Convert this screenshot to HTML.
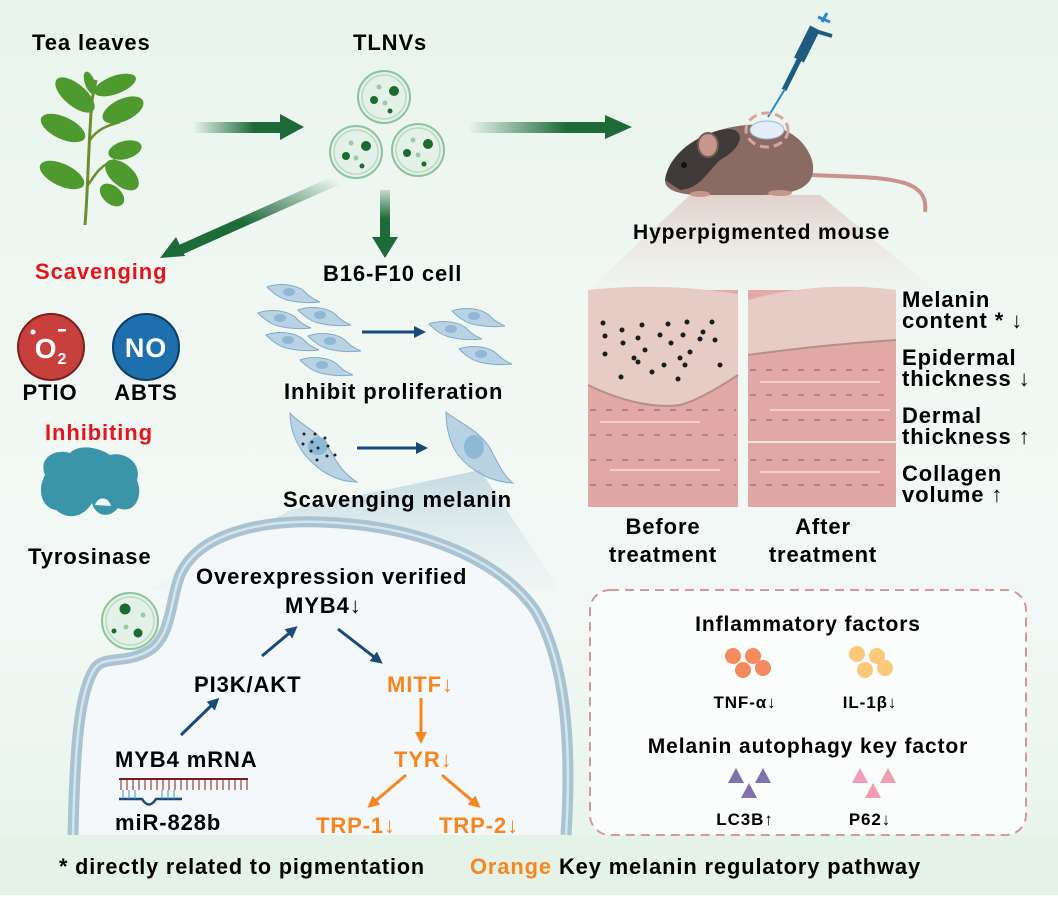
<!DOCTYPE html>
<html><head><meta charset="utf-8"><style>
html,body{margin:0;padding:0;background:#fff}
svg{display:block}
text{font-family:"Liberation Sans",Arial,sans-serif;font-weight:bold;letter-spacing:0.9px}
</style></head><body>
<svg width="1058" height="908" viewBox="0 0 1058 908" xmlns="http://www.w3.org/2000/svg">
<defs>
<linearGradient id="bg" x1="0" y1="0" x2="0" y2="1">
<stop offset="0" stop-color="#e8f4ec"/><stop offset="0.35" stop-color="#f1f8f4"/><stop offset="0.7" stop-color="#f2f8f5"/><stop offset="1" stop-color="#e6f3ea"/></linearGradient>
<linearGradient id="ga" x1="0" y1="0" x2="1" y2="0"><stop offset="0" stop-color="#1e6b3a" stop-opacity="0"/><stop offset="0.7" stop-color="#1e6b3a"/></linearGradient>
<linearGradient id="gd" x1="1" y1="0" x2="0" y2="1"><stop offset="0" stop-color="#1e6b3a" stop-opacity="0"/><stop offset="0.6" stop-color="#1e6b3a"/></linearGradient>
<linearGradient id="gv" x1="0" y1="0" x2="0" y2="1"><stop offset="0" stop-color="#1e6b3a" stop-opacity="0.2"/><stop offset="0.6" stop-color="#1e6b3a"/></linearGradient>
<linearGradient id="funnel" x1="0" y1="0" x2="0" y2="1"><stop offset="0" stop-color="#d9b9b3"/><stop offset="1" stop-color="#efe6e2" stop-opacity="0.3"/></linearGradient>
<linearGradient id="bfun" x1="0" y1="0" x2="0" y2="1"><stop offset="0" stop-color="#8fb4cc"/><stop offset="1" stop-color="#dbe8f0" stop-opacity="0.3"/></linearGradient>
<linearGradient id="derm" x1="0" y1="0" x2="0" y2="1"><stop offset="0" stop-color="#e3a9a7"/><stop offset="1" stop-color="#e0a7a5"/></linearGradient>
<marker id="mb" viewBox="0 0 10 10" refX="5" refY="5" markerWidth="4" markerHeight="4" orient="auto"><path d="M0,0L10,5L0,10z" fill="#184a7a"/></marker>
<marker id="mo" viewBox="0 0 10 10" refX="5" refY="5" markerWidth="4" markerHeight="4" orient="auto"><path d="M0,0L10,5L0,10z" fill="#f7861f"/></marker>
<g id="cell"><path d="M-26,-7 C-12,-12 6,-9 13,-1 C18,4 22,6 27,8 C10,10 -8,7 -15,2 C-20,-1 -23,-4 -26,-7Z" fill="#b9d3e5" stroke="#80acc9" stroke-width="1"/><ellipse cx="-4" cy="-2" rx="6" ry="4" fill="#8fb8d5"/></g>
</defs>
<rect x="0" y="0" width="1058" height="895" fill="url(#bg)"/>
<rect x="0" y="835" width="1058" height="60" fill="#e5f2e8"/>

<text x="32" y="50" font-size="22">Tea leaves</text>
<text x="353" y="50" font-size="22">TLNVs</text>

<g>
<path d="M85,225 C88,190 88,150 92,100 L96,80" stroke="#6a8f2c" stroke-width="3" fill="none"/>
<path d="M88,185 C95,175 100,165 115,160 M90,140 C98,128 110,125 120,122 M92,110 C85,100 75,95 62,90" stroke="#6a8f2c" stroke-width="2.5" fill="none"/>
<g fill="#4f9a2e">
<ellipse cx="75" cy="95" rx="24" ry="11" transform="rotate(40 75 95)"/>
<ellipse cx="115" cy="85" rx="22" ry="9" transform="rotate(-20 115 85)"/>
<ellipse cx="123" cy="110" rx="22" ry="11" transform="rotate(-25 123 110)"/>
<ellipse cx="63" cy="128" rx="24" ry="11" transform="rotate(25 63 128)"/>
<ellipse cx="125" cy="150" rx="17" ry="9" transform="rotate(-15 125 150)"/>
<ellipse cx="62" cy="175" rx="24" ry="11" transform="rotate(25 62 175)"/>
<ellipse cx="122" cy="175" rx="20" ry="11" transform="rotate(40 122 175)"/>
<ellipse cx="112" cy="195" rx="14" ry="9" transform="rotate(40 112 195)"/>
<ellipse cx="90" cy="83" rx="12" ry="5" transform="rotate(70 90 83)"/>
</g></g>

<rect x="193" y="122" width="87" height="11" fill="url(#ga)"/>
<path d="M280,114 L304,127 L280,140z" fill="#1e6b3a"/>
<rect x="468" y="122" width="140" height="11" fill="url(#ga)"/>
<path d="M605,115 L632,127 L605,139z" fill="#1e6b3a"/>
<path d="M337,180 L180,250" stroke="url(#gd)" stroke-width="10"/>
<path d="M160,258 L176,237 L185,256z" fill="#1e6b3a"/>
<rect x="380" y="190" width="10" height="48" fill="url(#gv)"/>
<path d="M372,237 L398,237 L385,258z" fill="#1e6b3a"/>

<g fill="#e4f1e8" stroke="#8cc39d" stroke-width="2">
<circle cx="384" cy="97" r="26"/><circle cx="356" cy="152" r="26"/><circle cx="418" cy="150" r="26"/>
</g>
<g fill="none" stroke="#b8dcc2" stroke-width="1.5">
<circle cx="384" cy="97" r="22"/><circle cx="356" cy="152" r="22"/><circle cx="418" cy="150" r="22"/></g>
<g fill="#1a6b2f">
<circle cx="394" cy="91" r="5"/><circle cx="374" cy="100" r="4"/><circle cx="390" cy="111" r="2.5"/>
<circle cx="366" cy="146" r="5"/><circle cx="346" cy="156" r="4"/><circle cx="362" cy="166" r="2.5"/>
<circle cx="428" cy="144" r="5"/><circle cx="407" cy="153" r="4"/><circle cx="424" cy="164" r="2.5"/></g>
<g fill="#9ccaa9"><circle cx="379" cy="87" r="2.5"/><circle cx="385" cy="103" r="2.5"/><circle cx="351" cy="143" r="2.5"/><circle cx="356" cy="158" r="2.5"/><circle cx="413" cy="140" r="2.5"/><circle cx="418" cy="155" r="2.5"/></g>

<!-- mouse -->
<polygon points="690,195 820,195 935,290 588,290" fill="url(#funnel)" opacity="0.6"/>
<line x1="827" y1="13" x2="822" y2="22" stroke="#2a8ad0" stroke-width="3"/>
<line x1="818" y1="17" x2="830" y2="22" stroke="#2a8ad0" stroke-width="3"/>
<line x1="815" y1="28" x2="799" y2="60" stroke="#1f5a80" stroke-width="11"/>
<line x1="812" y1="30" x2="832" y2="36" stroke="#1f5a80" stroke-width="4"/>
<line x1="800" y1="58" x2="784" y2="90" stroke="#1f5a80" stroke-width="5"/>
<line x1="785" y1="89" x2="768" y2="117" stroke="#2a8ad0" stroke-width="2"/>
<path d="M810,175 C880,178 930,175 925,212" stroke="#c9928a" stroke-width="4" fill="none"/>
<path d="M665,180 C670,160 690,140 720,130 C760,118 800,125 812,160 C818,185 800,195 760,195 L700,195 C680,195 664,190 665,180z" fill="#8a6b63"/>
<path d="M665,180 C668,158 690,138 720,130 C745,124 748,145 720,160 C705,175 700,188 680,190z" fill="#403a3a"/>
<ellipse cx="708" cy="145" rx="10" ry="12" fill="#c6958c" stroke="#6e5a57" stroke-width="2"/>
<circle cx="684" cy="165" r="3" fill="#111"/>
<ellipse cx="700" cy="194" rx="10" ry="3" fill="#c6958c"/><ellipse cx="780" cy="193" rx="12" ry="3" fill="#c6958c"/>
<ellipse cx="767" cy="130" rx="21" ry="17" fill="none" stroke="#dba4a0" stroke-width="3" stroke-dasharray="9 5"/>
<ellipse cx="767" cy="130" rx="17" ry="9" fill="#e4eef8" stroke="#9bb8d0" stroke-width="1"/>
<text x="633" y="239" font-size="21" letter-spacing="0.3">Hyperpigmented mouse</text>

<g>
<rect x="588" y="290" width="150" height="217" fill="url(#derm)"/>
<path d="M588,290 Q660,282 738,294 L738,375 Q700,400 680,405 Q640,410 588,385z" fill="#e7ccc6"/>
<path d="M588,385 Q640,410 680,405 Q700,400 738,375" stroke="#b58f89" stroke-width="2" fill="none"/>
<g fill="#1c1c1c">
<circle cx="603" cy="323" r="2.5"/><circle cx="622" cy="330" r="2.5"/><circle cx="642" cy="325" r="2.5"/><circle cx="668" cy="324" r="2.5"/><circle cx="687" cy="322" r="2.5"/><circle cx="712" cy="322" r="2.5"/>
<circle cx="605" cy="336" r="2.5"/><circle cx="638" cy="338" r="2.5"/><circle cx="660" cy="335" r="2.5"/><circle cx="683" cy="335" r="2.5"/><circle cx="703" cy="332" r="2.5"/><circle cx="715" cy="340" r="2.5"/><circle cx="700" cy="339" r="2.5"/>
<circle cx="623" cy="343" r="2.5"/><circle cx="645" cy="350" r="2.5"/><circle cx="671" cy="343" r="2.5"/><circle cx="690" cy="352" r="2.5"/><circle cx="605" cy="354" r="2.5"/><circle cx="634" cy="358" r="2.5"/>
<circle cx="680" cy="358" r="2.5"/><circle cx="664" cy="365" r="2.5"/><circle cx="638" cy="362" r="2.5"/><circle cx="685" cy="365" r="2.5"/><circle cx="720" cy="365" r="2.5"/><circle cx="621" cy="377" r="2.5"/><circle cx="652" cy="372" r="2.5"/><circle cx="678" cy="379" r="2.5"/></g>
<rect x="748" y="290" width="148" height="217" fill="url(#derm)"/>
<path d="M748,300 Q820,280 896,290 L896,340 Q820,345 748,355z" fill="#e7ccc6"/>
<path d="M748,355 Q820,345 896,340" stroke="#b58f89" stroke-width="2" fill="none"/>
<line x1="748" y1="442" x2="896" y2="442" stroke="#f6e4e2" stroke-width="2"/>
<g stroke="#8b5a88" stroke-width="1.5" stroke-dasharray="6 10" opacity="0.7">
<line x1="590" y1="410" x2="736" y2="410"/><line x1="590" y1="435" x2="736" y2="435"/><line x1="590" y1="460" x2="736" y2="460"/><line x1="590" y1="485" x2="736" y2="485"/>
<line x1="750" y1="370" x2="894" y2="370"/><line x1="750" y1="395" x2="894" y2="395"/><line x1="750" y1="420" x2="894" y2="420"/><line x1="750" y1="460" x2="894" y2="460"/><line x1="750" y1="485" x2="894" y2="485"/></g>
<g stroke="#f5dcda" stroke-width="2" opacity="0.8">
<line x1="600" y1="422" x2="700" y2="422"/><line x1="610" y1="470" x2="720" y2="470"/><line x1="760" y1="382" x2="880" y2="382"/><line x1="770" y1="410" x2="890" y2="410"/><line x1="760" y1="472" x2="880" y2="472"/></g>
</g>
<g font-size="22">
<text x="902" y="307">Melanin</text><text x="902" y="328">content * ↓</text>
<text x="902" y="365">Epidermal</text><text x="902" y="386">thickness ↓</text>
<text x="902" y="423">Dermal</text><text x="902" y="444">thickness ↑</text>
<text x="902" y="481">Collagen</text><text x="902" y="502">volume ↑</text>
<text x="663" y="534" text-anchor="middle">Before</text><text x="663" y="562" text-anchor="middle">treatment</text>
<text x="823" y="534" text-anchor="middle">After</text><text x="823" y="562" text-anchor="middle">treatment</text>
</g>

<text x="35" y="279" font-size="22" letter-spacing="0.4" fill="#e8141b">Scavenging</text>
<text x="323" y="281" font-size="22" letter-spacing="0.4">B16-F10 cell</text>
<circle cx="51" cy="347" r="33" fill="#c8403e" stroke="#7a1f1f" stroke-width="2"/>
<text x="51" y="358" font-size="28" fill="#fff" text-anchor="middle">O<tspan font-size="16" dy="6">2</tspan></text>
<circle cx="33" cy="332" r="2.5" fill="#fff"/><rect x="58" y="329" width="8" height="2.5" fill="#fff"/>
<circle cx="146" cy="347" r="33" fill="#1e6fae" stroke="#0d3c63" stroke-width="2"/>
<text x="146" y="357" font-size="27" fill="#fff" text-anchor="middle">NO</text>
<text x="50" y="400" font-size="22" text-anchor="middle">PTIO</text>
<text x="146" y="400" font-size="22" text-anchor="middle">ABTS</text>
<text x="45" y="440" font-size="22" letter-spacing="0.3" fill="#e8141b">Inhibiting</text>
<path d="M45,475 C38,458 55,448 70,453 C80,443 100,448 110,455 C125,451 142,463 137,480 C144,497 134,515 118,508 C108,520 95,515 92,503 C85,515 70,522 56,510 C43,508 36,492 45,475z" fill="#3b95a8"/>
<path d="M95,505 C98,496 108,496 111,506" fill="#f0f7f4"/>
<text x="28" y="564" font-size="22" letter-spacing="0.5">Tyrosinase</text>

<!-- cells -->
<use href="#cell" transform="translate(293,294)"/>
<use href="#cell" transform="translate(284,320)"/>
<use href="#cell" transform="translate(324,317)"/>
<use href="#cell" transform="translate(292,342)"/>
<use href="#cell" transform="translate(334,343)"/>
<use href="#cell" transform="translate(326,367)"/>
<use href="#cell" transform="translate(478,318)"/>
<use href="#cell" transform="translate(455,331)"/>
<use href="#cell" transform="translate(485,356)"/>
<path d="M290,413 C300,425 318,430 330,450 C338,465 345,475 357,482 C335,482 318,470 305,455 C296,443 290,430 290,413z" fill="#b9d3e5" stroke="#80acc9" stroke-width="1"/>
<ellipse cx="318" cy="446" rx="10" ry="9" fill="#8fb8d5"/>
<g fill="#222"><circle cx="304" cy="434" r="1.5"/><circle cx="315" cy="434" r="1.5"/><circle cx="325" cy="438" r="1.5"/><circle cx="312" cy="442" r="1.5"/><circle cx="328" cy="446" r="1.5"/><circle cx="303" cy="444" r="1.5"/><circle cx="318" cy="448" r="1.5"/><circle cx="311" cy="451" r="1.5"/><circle cx="327" cy="456" r="1.5"/><circle cx="335" cy="455" r="1.5"/><circle cx="317" cy="460" r="1.5"/></g>
<path d="M446,412 C458,422 475,428 488,445 C496,458 502,475 513,483 C490,482 470,470 458,455 C450,443 446,428 446,412z" fill="#b9d3e5" stroke="#80acc9" stroke-width="1"/>
<ellipse cx="474" cy="447" rx="10" ry="12" fill="#8fb8d5"/>
<line x1="362" y1="332" x2="420" y2="332" stroke="#184a7a" stroke-width="3" marker-end="url(#mb)"/>
<line x1="357" y1="448" x2="422" y2="448" stroke="#184a7a" stroke-width="3" marker-end="url(#mb)"/>
<text x="284" y="399" font-size="22" letter-spacing="0.6">Inhibit proliferation</text>
<polygon points="480,470 560,590 150,590 290,510" fill="url(#bfun)" opacity="0.45"/>
<text x="283" y="507" font-size="22" letter-spacing="0.1">Scavenging melanin</text>

<path d="M73,835 C75,740 80,690 95,668 C105,655 125,665 150,650 C172,635 170,600 180,575 C200,530 270,520 320,522 C420,525 500,560 535,610 C565,660 572,740 566,835 Z" fill="#f5f8fb"/>
<path d="M73,835 C75,740 80,690 95,668 C105,655 125,665 150,650 C172,635 170,600 180,575 C200,530 270,520 320,522 C420,525 500,560 535,610 C565,660 572,740 566,835" fill="none" stroke="#a9c3d3" stroke-width="11"/>
<path d="M73,835 C75,740 80,690 95,668 C105,655 125,665 150,650 C172,635 170,600 180,575 C200,530 270,520 320,522 C420,525 500,560 535,610 C565,660 572,740 566,835" fill="none" stroke="#d6e4ec" stroke-width="2.5"/>
<circle cx="130" cy="621" r="28" fill="#e4f1e8" stroke="#8cc39d" stroke-width="2"/>
<circle cx="130" cy="621" r="24" fill="none" stroke="#b8dcc2" stroke-width="1.5"/>
<g fill="#1a6b2f"><circle cx="125" cy="609" r="5.5"/><circle cx="138" cy="633" r="4.5"/><circle cx="114" cy="631" r="2.5"/></g>
<g fill="#9ccaa9"><circle cx="143" cy="615" r="2.5"/><circle cx="126" cy="627" r="2.5"/></g>
<g font-size="22">
<text x="196" y="584" letter-spacing="0.3">Overexpression verified</text>
<text x="285" y="613">MYB4↓</text>
<text x="194" y="692">PI3K/AKT</text>
<text x="115" y="767">MYB4 mRNA</text>
<text x="115" y="830">miR-828b</text>
<g fill="#f7861f"><text x="387" y="692">MITF↓</text><text x="394" y="767">TYR↓</text><text x="316" y="833">TRP-1↓</text><text x="439" y="833">TRP-2↓</text></g>
</g>
<line x1="262" y1="656" x2="293" y2="630" stroke="#184a7a" stroke-width="3" marker-end="url(#mb)"/>
<line x1="181" y1="735" x2="215" y2="702" stroke="#184a7a" stroke-width="3" marker-end="url(#mb)"/>
<line x1="338" y1="629" x2="378" y2="660" stroke="#184a7a" stroke-width="3" marker-end="url(#mb)"/>
<line x1="421" y1="698" x2="421" y2="738" stroke="#f7861f" stroke-width="3" marker-end="url(#mo)"/>
<line x1="406" y1="775" x2="372" y2="804" stroke="#f7861f" stroke-width="3" marker-end="url(#mo)"/>
<line x1="442" y1="775" x2="476" y2="804" stroke="#f7861f" stroke-width="3" marker-end="url(#mo)"/>
<line x1="119" y1="779" x2="248" y2="779" stroke="#7a1f1f" stroke-width="2"/>
<path d="M121,779 V790 M127,779 V790 M133,779 V790 M139,779 V790 M145,779 V790 M151,779 V790 M157,779 V790 M163,779 V790 M169,779 V790 M175,779 V790 M181,779 V790 M187,779 V790 M193,779 V790 M199,779 V790 M205,779 V790 M211,779 V790 M217,779 V790 M223,779 V790 M229,779 V790 M235,779 V790 M241,779 V790 M247,779 V790" stroke="#7a1f1f" stroke-width="1"/>
<path d="M119,799 H142 Q149,810 156,799 H182" stroke="#184a7a" stroke-width="2.5" fill="none"/>
<path d="M123,790 V799 M129,790 V799 M135,790 V799 M162,790 V799 M168,790 V799 M174,790 V799" stroke="#3d8fd0" stroke-width="1"/>

<rect x="590" y="590" width="436" height="245" rx="20" fill="#fbfcfc" stroke="#d2999b" stroke-width="2" stroke-dasharray="9 6"/>
<g font-size="21"><text x="808" y="631" text-anchor="middle">Inflammatory factors</text>
<text x="808" y="753" text-anchor="middle">Melanin autophagy key factor</text></g>
<g font-size="17"><text x="745" y="708" text-anchor="middle">TNF-α↓</text><text x="870" y="708" text-anchor="middle">IL-1β↓</text>
<text x="745" y="825" text-anchor="middle">LC3B↑</text><text x="870" y="825" text-anchor="middle">P62↓</text></g>
<g fill="#f58a5e"><circle cx="733" cy="656" r="8"/><circle cx="753" cy="656" r="8"/><circle cx="743" cy="670" r="8"/><circle cx="763" cy="668" r="8"/></g>
<g fill="#fcc97a"><circle cx="857" cy="654" r="8"/><circle cx="877" cy="656" r="8"/><circle cx="865" cy="670" r="8"/><circle cx="885" cy="668" r="8"/></g>
<g fill="#7f72ad"><polygon points="728,783 744,783 736,768"/><polygon points="755,783 771,783 763,768"/><polygon points="741,798 757,798 749,783"/></g>
<g fill="#f29bb5"><polygon points="852,783 868,783 860,768"/><polygon points="880,783 896,783 888,768"/><polygon points="865,798 881,798 873,783"/></g>

<text x="59" y="874" font-size="22" textLength="366" lengthAdjust="spacingAndGlyphs">* directly related to pigmentation</text>
<text x="470" y="874" font-size="22" fill="#f7861f" textLength="82" lengthAdjust="spacingAndGlyphs">Orange</text>
<text x="559" y="874" font-size="22" textLength="362" lengthAdjust="spacingAndGlyphs">Key melanin regulatory pathway</text>
</svg>
</body></html>
